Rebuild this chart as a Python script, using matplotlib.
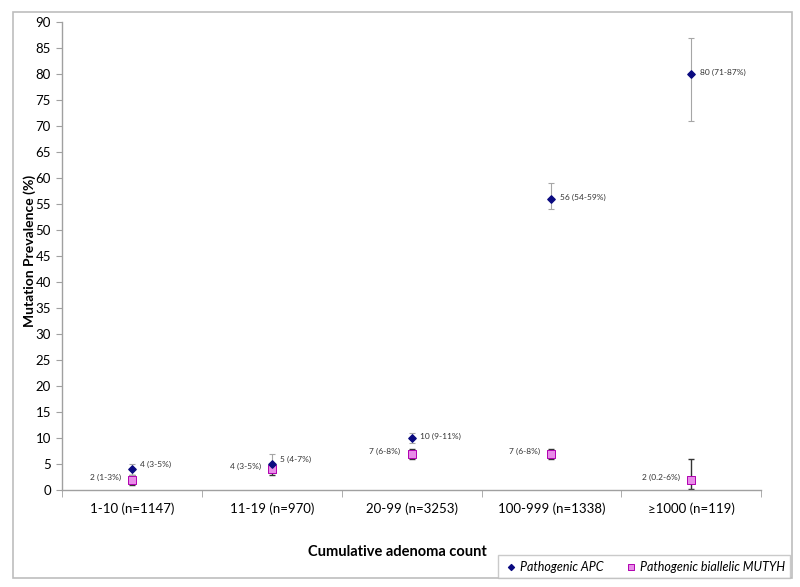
import matplotlib.pyplot as plt
from matplotlib.patches import Rectangle

plt.rcParams['font.family'] = ['Lato', 'DejaVu Sans']

categories = ["1-10 (n=1147)", "11-19 (n=970)", "20-99 (n=3253)",
              "100-999 (n=1338)", "\u22651000 (n=119)"]
apc = [4, 5, 10, 56, 80]
apc_lo = [3, 4, 9, 54, 71]
apc_hi = [5, 7, 11, 59, 87]
apc_labels = ["4 (3-5%)", "5 (4-7%)", "10 (9-11%)", "56 (54-59%)", "80 (71-87%)"]
mutyh = [2, 4, 7, 7, 2]
mutyh_lo = [1, 3, 6, 6, 0.2]
mutyh_hi = [3, 5, 8, 8, 6]
mutyh_labels = ["2 (1-3%)", "4 (3-5%)", "7 (6-8%)", "7 (6-8%)", "2 (0.2-6%)"]

fig = plt.figure(figsize=(8, 5.87), dpi=100)
ax = fig.add_axes([0.0775, 0.165, 0.874, 0.7975])

x = list(range(len(categories)))

# outer chart frame
fig.patches.append(Rectangle((0.016, 0.015), 0.974, 0.965, transform=fig.transFigure,
                             fill=False, edgecolor='#bdbdbd', lw=1.2))

m_err = [[m - l for m, l in zip(mutyh, mutyh_lo)], [h - m for m, h in zip(mutyh, mutyh_hi)]]
a_err = [[m - l for m, l in zip(apc, apc_lo)], [h - m for m, h in zip(apc, apc_hi)]]

ax.errorbar(x, mutyh, yerr=m_err, fmt='none', ecolor='#333333', elinewidth=1.0,
            capsize=2.5, capthick=1.0, zorder=2)
ax.errorbar(x, apc, yerr=a_err, fmt='none', ecolor='#a6a6a6', elinewidth=0.8,
            capsize=2.5, capthick=0.8, zorder=2)
ax.scatter(x, mutyh, marker='s', s=26, color='#e88ce8', edgecolor='#b000b0',
           linewidth=0.7, zorder=3, label='Pathogenic biallelic MUTYH')
ax.scatter(x, apc, marker='D', s=14, color='#0a0a80', zorder=4, label='Pathogenic APC')

for xi, v, t in zip(x, apc, apc_labels):
    ax.annotate(t, (xi, v), xytext=(6, 1), textcoords='offset points',
                fontsize=6, color='#333333', va='bottom' if xi < 2 else 'center')
for xi, v, t in zip(x, mutyh, mutyh_labels):
    ax.annotate(t, (xi, v), xytext=(-8, 2), textcoords='offset points',
                fontsize=6, color='#333333', ha='right', va='center')

ax.set_xlim(-0.5, len(categories) - 0.5)
ax.set_ylim(0, 90)
ax.set_yticks(range(0, 91, 5))
ax.set_xticks(x)
ax.set_xticklabels(categories, fontsize=9.5)
ax.set_xticks([i + 0.5 for i in range(-1, len(categories))], minor=True)
ax.tick_params(axis='x', which='major', length=0, pad=9)
ax.tick_params(axis='x', which='minor', length=5, color='#a0a0a0')
ax.tick_params(axis='y', length=4, color='#a0a0a0', labelsize=9.5, pad=4)

for s in ['top', 'right']:
    ax.spines[s].set_visible(False)
for s in ['left', 'bottom']:
    ax.spines[s].set_color('#a0a0a0')
    ax.spines[s].set_linewidth(1.0)

ax.set_ylabel('Mutation Prevalence (%)', fontsize=10, fontweight='bold')
ax.yaxis.set_label_coords(-0.046, 0.51)
ax.set_xlabel('Cumulative adenoma count', fontsize=10.5, fontweight='bold')
ax.xaxis.set_label_coords(0.48, -0.132)
ax.xaxis.label.set_va('center')
ax.yaxis.label.set_va('center')

handles, labels = ax.get_legend_handles_labels()
leg = fig.legend(handles[::-1], labels[::-1], loc='lower right', ncol=2,
                 bbox_to_anchor=(0.988, 0.015), frameon=True, fancybox=False,
                 edgecolor='#bdbdbd', prop={'style': 'italic', 'size': 9},
                 handletextpad=0.1, handlelength=1.2, columnspacing=1.6,
                 borderpad=0.45, borderaxespad=0.0, markerscale=0.8)

fig.savefig('out.png', dpi=100)
